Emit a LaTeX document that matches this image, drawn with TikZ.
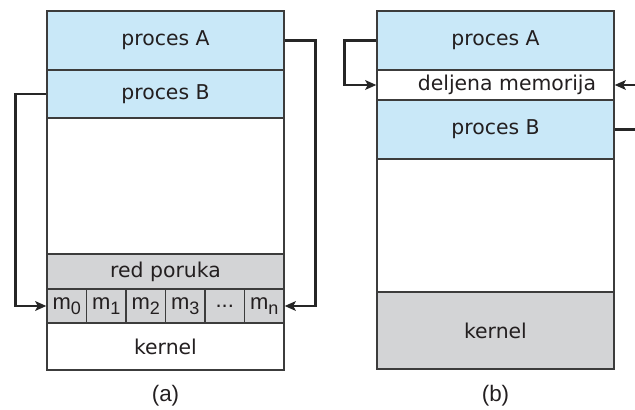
\documentclass[tikz,border=0pt]{standalone}
\usepackage{fontspec}
\setmainfont{DejaVu Sans}
\newfontfamily\capfont{Liberation Sans}
\usetikzlibrary{arrows.meta}
\definecolor{procblue}{RGB}{201,232,248}
\definecolor{kgray}{RGB}{211,212,214}
\definecolor{edge}{RGB}{60,60,60}
\definecolor{ink}{RGB}{35,31,32}
% message slot label: m with a lowered index
\newcommand{\msub}[1]{m\raisebox{-2.8pt}{\fontsize{9}{10}\selectfont #1}}
\tikzset{
  region/.style={draw=edge, line width=0.7pt, inner sep=0pt, text=ink,
    font=\fontsize{10.2}{12}\selectfont, minimum width=118.5pt},
  cell/.style={draw=edge, line width=0.7pt, inner sep=0pt, text=ink, fill=kgray,
    font=\capfont\fontsize{11}{12}\selectfont, minimum width=19.75pt, minimum height=17pt},
  link/.style={draw=black!85, line width=1.4pt,
    -{Stealth[length=5.5pt,width=4.8pt,inset=1.2pt]}},
  caption/.style={font=\capfont\fontsize{11.2}{13}\selectfont, text=ink}
}
\begin{document}
\begin{tikzpicture}[x=0.5pt,y=-0.5pt]
\useasboundingbox (0,0) rectangle (635,410);
\clip (0,0) rectangle (635,410);
% ---- (a) message passing ----
\node[region, fill=procblue, minimum height=29.5pt] (aA) at (165.5,40.5) {proces A};
\node[region, fill=procblue, minimum height=24pt] (aB) at (165.5,94) {proces B};
\node[region, fill=white, minimum height=68pt] (aFree) at (165.5,186) {};
\node[region, fill=kgray, minimum height=17.5pt] (aQ) at (165.5,271.5) {red poruka};
\node[cell] (m0) at (66.75,306) {\msub{0}};
\node[cell] (m1) at (106.25,306) {\msub{1}};
\node[cell] (m2) at (145.75,306) {\msub{2}};
\node[cell] (m3) at (185.25,306) {\msub{3}};
\node[cell] (mdots) at (224.75,306) {...};
\node[cell] (mn) at (264.25,306) {\msub{n}};
\node[region, fill=white, minimum height=23.5pt] (aK) at (165.5,346.5) {kernel};
\node[caption] (capA) at (165.5,396) {(a)};
\draw[link] (aB.west) -- ++(-31,0) |- (m0.west);
\draw[link] (aA.east) -- ++(31,0) |- (mn.east);
% ---- (b) shared memory ----
\node[region, fill=procblue, minimum height=29.5pt] (bA) at (495.5,40.5) {proces A};
\node[region, fill=white, minimum height=15pt] (bS) at (495.5,85) {};
\node[text=ink, font=\fontsize{10.2}{12}\selectfont] (bSt) at (507,85) {deljena memorija};
\node[region, fill=procblue, minimum height=29.5pt] (bB) at (495.5,129.5) {proces B};
\node[region, fill=white, minimum height=66.5pt] (bFree) at (495.5,225.5) {};
\node[region, fill=kgray, minimum height=38.5pt] (bK) at (495.5,330.5) {kernel};
\node[caption] (capB) at (495.5,396) {(b)};
\draw[link] (bA.west) -- ++(-32,0) |- (bS.west);
\draw[link] (bB.east) -- ++(40,0) |- (bS.east);
\end{tikzpicture}
\end{document}
